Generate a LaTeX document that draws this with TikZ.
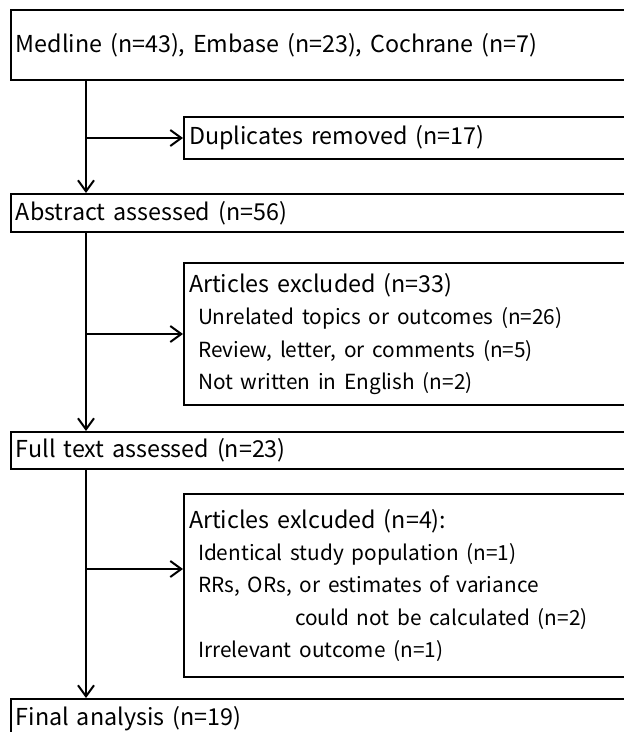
\documentclass[tikz,border=0pt]{standalone}
\usepackage{fontspec}
\setmainfont{Noto Sans CJK KR}
\usetikzlibrary{arrows.meta,positioning}
\newcommand{\itemfont}{\fontsize{20.8}{32.5}\selectfont}

\begin{document}
\begin{tikzpicture}[x=1pt,y=-1pt,line width=2pt,>={Straight Barb[length=11pt,width=16pt]},
	box/.style={draw,anchor=north west,text width=700pt,align=left,inner xsep=5pt,inner ysep=0pt,font=\fontsize{23.3}{32.5}\selectfont}]
\useasboundingbox (0,0) rectangle (624,732);
\clip (0,0) rectangle (624,732);

% boxes run off the right edge
\node[box,minimum height=70pt] (src) at (10,9) {Medline (n=43), Embase (n=23), Cochrane (n=7)};
\node[box,minimum height=42pt] (dup) at (183,116) {Duplicates removed (n=17)};
\node[box,minimum height=38pt] (abs) at (10,193) {Abstract assessed (n=56)};
\node[box,minimum height=142pt] (exc1) at (183,262) {Articles excluded (n=33)\\
	\itemfont\hspace*{9pt}Unrelated topics or outcomes (n=26)\\
	\hspace*{9pt}Review, letter, or comments (n=5)\\
	\hspace*{9pt}Not written in English (n=2)};
\node[box,minimum height=37pt] (full) at (10,431) {Full text assessed (n=23)};
\node[box,minimum height=183pt] (exc2) at (183,493) {Articles exlcuded (n=4):\\
	\itemfont\hspace*{9pt}Identical study population (n=1)\\
	\hspace*{9pt}RRs, ORs, or estimates of variance\\
	\hspace*{106pt}could not be calculated (n=2)\\
	\hspace*{9pt}Irrelevant outcome (n=1)};
\node[box,minimum height=40pt] (fin) at (10,698) {Final analysis (n=19)};

\coordinate (s1) at ([xshift=76pt]src.south west);
\coordinate (s2) at ([xshift=76pt]abs.south west);
\coordinate (s3) at ([xshift=76pt]full.south west);
\coordinate (e2) at ([yshift=16.5pt]exc2.west);

\draw[->] (s1) -- (s1 |- abs.north);
\draw[->] (s1 |- dup.west) -- (dup.west);
\draw[->] (s2) -- (s2 |- full.north);
\draw[->] (s2 |- exc1.west) -- (exc1.west);
\draw[->] (s3) -- (s3 |- fin.north);
\draw[->] (s3 |- e2) -- (e2);

\end{tikzpicture}
\end{document}
